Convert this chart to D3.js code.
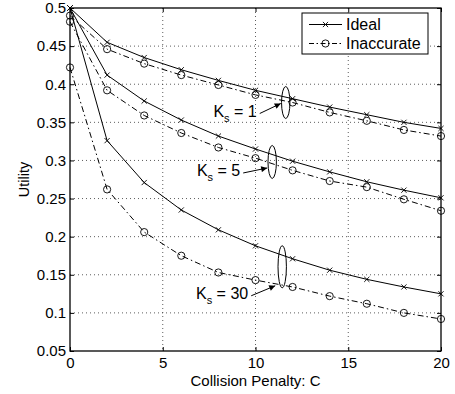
<!DOCTYPE html>
<html>
<head>
<meta charset="utf-8">
<script src="https://cdn.jsdelivr.net/npm/d3@7"></script>
<style>
  body { margin: 0; background: #fff; }
  svg { display: block; font-family: "Liberation Sans", Arial, sans-serif; }
</style>
</head>
<body>
<svg id="chart" width="455" height="394"></svg>
<script>
// penalty values on the x axis
const penalty = [0, 2, 4, 6, 8, 10, 12, 14, 16, 18, 20];

const idealK1 = [0.5, 0.455, 0.435, 0.419, 0.405, 0.392, 0.381, 0.370, 0.360, 0.350, 0.342];
const inaccK1 = [0.490, 0.446, 0.427, 0.412, 0.399, 0.386, 0.376, 0.363, 0.352, 0.340, 0.332];
const idealK5 = [0.5, 0.412, 0.378, 0.353, 0.332, 0.315, 0.299, 0.285, 0.272, 0.261, 0.251];
const inaccK5 = [0.482, 0.392, 0.359, 0.336, 0.317, 0.303, 0.287, 0.273, 0.265, 0.249, 0.234];
const idealK30 = [0.5, 0.326, 0.271, 0.235, 0.209, 0.188, 0.171, 0.156, 0.144, 0.134, 0.125];
const inaccK30 = [0.422, 0.262, 0.206, 0.175, 0.153, 0.143, 0.134, 0.122, 0.112, 0.100, 0.092];

const xTicks = [0, 5, 10, 15, 20];
const yTicks = [0.05, 0.1, 0.15, 0.2, 0.25, 0.3, 0.35, 0.4, 0.45, 0.5];

const legendLabels = ["Ideal", "Inaccurate"];

// ellipse annotations: which group, centre in data units, label text
const groupLabels = ["1", "5", "30"];
const groupCentreX = [11.63, 10.9, 11.44];
const groupCentreY = [0.376, 0.298, 0.1605];

const series = [
  { values: idealK1, ideal: true },
  { values: inaccK1, ideal: false },
  { values: idealK5, ideal: true },
  { values: inaccK5, ideal: false },
  { values: idealK30, ideal: true },
  { values: inaccK30, ideal: false }
];

const svg = d3.select("#chart");
const plotLeft = 70, plotRight = 441, plotTop = 8, plotBottom = 351;

const x = d3.scaleLinear().domain([0, 20]).range([plotLeft, plotRight]);
const y = d3.scaleLinear().domain([0.05, 0.5]).range([plotBottom, plotTop]);

const dashDot = "6,3,1.5,3";

// grid
const grid = svg.append("g");
grid.selectAll(".gx").data(xTicks.slice(1, -1)).enter().append("line")
  .attr("x1", d => x(d)).attr("x2", d => x(d))
  .attr("y1", plotTop).attr("y2", plotBottom)
  .attr("stroke", "#333").attr("stroke-width", 0.8)
  .attr("stroke-dasharray", "1,3");
grid.selectAll(".gy").data(yTicks.slice(1, -1)).enter().append("line")
  .attr("x1", plotLeft).attr("x2", plotRight)
  .attr("y1", d => y(d)).attr("y2", d => y(d))
  .attr("stroke", "#333").attr("stroke-width", 0.8)
  .attr("stroke-dasharray", "1,3");

// axes with inward ticks
const axisBottom = d3.axisBottom(x).tickValues(xTicks).tickSize(-4).tickPadding(6).tickFormat(d3.format("d"));
const axisLeft = d3.axisLeft(y).tickValues(yTicks).tickSize(-4).tickPadding(4).tickFormat(d => String(+d.toFixed(2)));
const axisTop = d3.axisTop(x).tickValues(xTicks).tickSize(-4).tickFormat("");
const axisRight = d3.axisRight(y).tickValues(yTicks).tickSize(-4).tickFormat("");

function styleAxis(g) {
  g.select(".domain").remove();
  g.selectAll(".tick line").attr("stroke", "#000").attr("stroke-width", 1);
  g.selectAll(".tick text").attr("fill", "#000").style("font-size", "15px")
    .style("font-family", "Liberation Sans, Arial, sans-serif");
}
svg.append("g").attr("transform", `translate(0,${plotBottom})`).call(axisBottom).call(styleAxis);
svg.append("g").attr("transform", `translate(${plotLeft},0)`).call(axisLeft).call(styleAxis);
svg.append("g").attr("transform", `translate(0,${plotTop})`).call(axisTop).call(styleAxis);
svg.append("g").attr("transform", `translate(${plotRight},0)`).call(axisRight).call(styleAxis);

// lines and markers
const line = d3.line().x((d, i) => x(penalty[i])).y(d => y(d));

function drawMarker(g, px, py, ideal) {
  if (ideal) {
    const s = 2.6;
    g.append("path")
      .attr("d", `M${px - s},${py - s}L${px + s},${py + s}M${px - s},${py + s}L${px + s},${py - s}`)
      .attr("stroke", "#000").attr("stroke-width", 0.9).attr("fill", "none");
  } else {
    g.append("circle").attr("cx", px).attr("cy", py).attr("r", 3.6)
      .attr("stroke", "#000").attr("stroke-width", 0.9).attr("fill", "none");
  }
}

const plot = svg.append("g");
series.forEach(s => {
  plot.append("path")
    .attr("d", line(s.values))
    .attr("fill", "none")
    .attr("stroke", "#000")
    .attr("stroke-width", 1)
    .attr("stroke-dasharray", s.ideal ? null : dashDot);
  s.values.forEach((v, i) => drawMarker(plot, x(penalty[i]), y(v), s.ideal));
});

// frame
svg.append("rect")
  .attr("x", plotLeft).attr("y", plotTop)
  .attr("width", plotRight - plotLeft).attr("height", plotBottom - plotTop)
  .attr("fill", "none").attr("stroke", "#000").attr("stroke-width", 1.3);

// annotations
svg.append("defs").append("marker")
  .attr("id", "arrow").attr("viewBox", "0 0 10 10")
  .attr("refX", 10).attr("refY", 5)
  .attr("markerWidth", 9).attr("markerHeight", 6)
  .attr("markerUnits", "userSpaceOnUse")
  .attr("orient", "auto")
  .append("path").attr("d", "M0,0L10,5L0,10Z").attr("fill", "#000");

const ellipseRy = [16, 16.5, 21];
const arrowStart = [[-26, 11], [-29, 11], [-31, 29]];
const arrowTip = [[-5, 1], [-5, 6], [-7, 19]];

const ann = svg.append("g");
groupLabels.forEach((lab, i) => {
  const cx = x(groupCentreX[i]), cy = y(groupCentreY[i]);
  ann.append("ellipse")
    .attr("cx", cx).attr("cy", cy).attr("rx", 4.2).attr("ry", ellipseRy[i])
    .attr("fill", "none").attr("stroke", "#000").attr("stroke-width", 1);
  const sx = cx + arrowStart[i][0], sy = cy + arrowStart[i][1];
  ann.append("line")
    .attr("x1", sx).attr("y1", sy)
    .attr("x2", cx + arrowTip[i][0]).attr("y2", cy + arrowTip[i][1])
    .attr("stroke", "#000").attr("stroke-width", 1)
    .attr("marker-end", "url(#arrow)");
  const t = ann.append("text")
    .attr("x", sx - 3).attr("y", sy + 3)
    .attr("text-anchor", "end")
    .style("font-size", "16px");
  t.append("tspan").text("K");
  t.append("tspan").attr("dy", 5).style("font-size", "11px").text("s");
  t.append("tspan").attr("dy", -5).text(" = " + lab);
});

// legend
const lg = svg.append("g");
lg.append("rect")
  .attr("x", 302).attr("y", 13).attr("width", 126).attr("height", 41)
  .attr("fill", "#fff").attr("stroke", "#000").attr("stroke-width", 1);
legendLabels.forEach((lab, i) => {
  const ly = 24.5 + i * 19;
  lg.append("line")
    .attr("x1", 309).attr("x2", 342).attr("y1", ly).attr("y2", ly)
    .attr("stroke", "#000").attr("stroke-width", 1)
    .attr("stroke-dasharray", i === 0 ? null : "5,2.5,1.5,2.5");
  drawMarker(lg, 325.5, ly, i === 0);
  lg.append("text")
    .attr("x", 346).attr("y", ly + 5.5)
    .style("font-size", "16px")
    .text(lab);
});

// axis labels
svg.append("text")
  .attr("x", (plotLeft + plotRight) / 2).attr("y", 386)
  .attr("text-anchor", "middle")
  .style("font-size", "15px")
  .text("Collision Penalty: C");
svg.append("text")
  .attr("transform", `translate(29,${(plotTop + plotBottom) / 2}) rotate(-90)`)
  .attr("text-anchor", "middle")
  .style("font-size", "14.5px")
  .text("Utility");
</script>
</body>
</html>
